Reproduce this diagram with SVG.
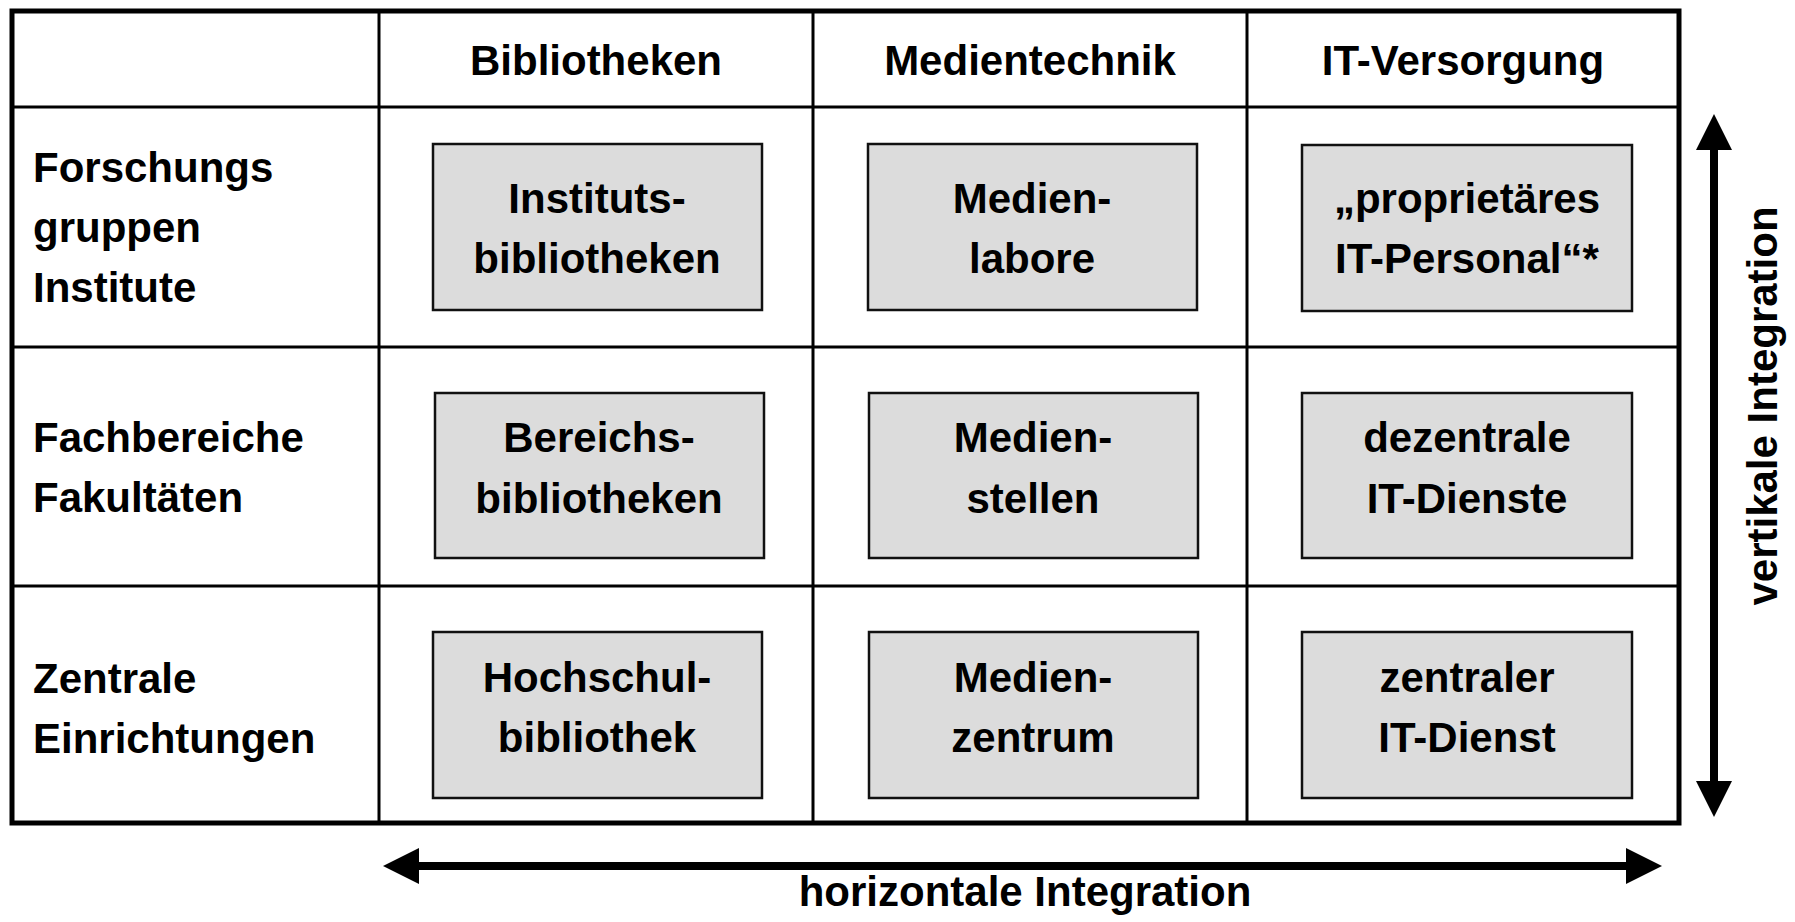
<svg xmlns="http://www.w3.org/2000/svg" width="1795" height="922" viewBox="0 0 1795 922">
  <style>
    text { font-family: "Liberation Sans", Arial, sans-serif; font-weight: bold; font-size: 42px; fill: #000; }
    .c { text-anchor: middle; }
    .grid { stroke: #000; stroke-width: 3; fill: none; }
    .frame { stroke: #000; stroke-width: 5; fill: none; }
    .box rect { fill: #dcdcdc; stroke: #111; stroke-width: 2.5; }
    .arrow { stroke: #000; stroke-width: 8; fill: none; marker-start: url(#head); marker-end: url(#head); }
  </style>
  <defs>
    <marker id="head" markerUnits="userSpaceOnUse" markerWidth="36" markerHeight="36" viewBox="0 0 36 36" refX="5" refY="18" orient="auto-start-reverse">
      <path d="M0,0 L36,18 L0,36 z" fill="#000"/>
    </marker>
  </defs>
  <rect width="1795" height="922" fill="#fff"/>

  <g id="table">
    <line class="grid" x1="12" y1="107" x2="1679" y2="107"/>
    <line class="grid" x1="12" y1="347" x2="1679" y2="347"/>
    <line class="grid" x1="12" y1="586" x2="1679" y2="586"/>
    <line class="grid" x1="379" y1="11" x2="379" y2="823"/>
    <line class="grid" x1="813" y1="11" x2="813" y2="823"/>
    <line class="grid" x1="1247" y1="11" x2="1247" y2="823"/>
    <rect class="frame" x="12" y="11" width="1667" height="812"/>
  </g>

  <g id="headers">
    <text class="c" x="596" y="75">Bibliotheken</text>
    <text class="c" x="1030" y="75">Medientechnik</text>
    <text class="c" x="1463" y="75">IT-Versorgung</text>
  </g>

  <g id="row-labels">
    <text x="33" y="182">Forschungs</text>
    <text x="33" y="242">gruppen</text>
    <text x="33" y="302">Institute</text>
    <text x="33" y="452">Fachbereiche</text>
    <text x="33" y="512">Fakultäten</text>
    <text x="33" y="693">Zentrale</text>
    <text x="33" y="753">Einrichtungen</text>
  </g>

  <g id="node-institutsbibliotheken" class="box">
    <rect x="433" y="144" width="329" height="166"/>
    <text class="c" x="597" y="213">Instituts-</text>
    <text class="c" x="597" y="273">bibliotheken</text>
  </g>
  <g id="node-medienlabore" class="box">
    <rect x="868" y="144" width="329" height="166"/>
    <text class="c" x="1032" y="213">Medien-</text>
    <text class="c" x="1032" y="273">labore</text>
  </g>
  <g id="node-it-personal" class="box">
    <rect x="1302" y="145" width="330" height="166"/>
    <text class="c" x="1467" y="213">„proprietäres</text>
    <text class="c" x="1467" y="273">IT-Personal“*</text>
  </g>

  <g id="node-bereichsbibliotheken" class="box">
    <rect x="435" y="393" width="329" height="165"/>
    <text class="c" x="599" y="452">Bereichs-</text>
    <text class="c" x="599" y="513">bibliotheken</text>
  </g>
  <g id="node-medienstellen" class="box">
    <rect x="869" y="393" width="329" height="165"/>
    <text class="c" x="1033" y="452">Medien-</text>
    <text class="c" x="1033" y="513">stellen</text>
  </g>
  <g id="node-dezentrale-it" class="box">
    <rect x="1302" y="393" width="330" height="165"/>
    <text class="c" x="1467" y="452">dezentrale</text>
    <text class="c" x="1467" y="513">IT-Dienste</text>
  </g>

  <g id="node-hochschulbibliothek" class="box">
    <rect x="433" y="632" width="329" height="166"/>
    <text class="c" x="597" y="692">Hochschul-</text>
    <text class="c" x="597" y="752">bibliothek</text>
  </g>
  <g id="node-medienzentrum" class="box">
    <rect x="869" y="632" width="329" height="166"/>
    <text class="c" x="1033" y="692">Medien-</text>
    <text class="c" x="1033" y="752">zentrum</text>
  </g>
  <g id="node-zentraler-it" class="box">
    <rect x="1302" y="632" width="330" height="166"/>
    <text class="c" x="1467" y="692">zentraler</text>
    <text class="c" x="1467" y="752">IT-Dienst</text>
  </g>

  <g id="connectors">
    <line class="arrow" x1="1714" y1="145" x2="1714" y2="786"/>
    <line class="arrow" x1="414" y1="866" x2="1631" y2="866"/>
  </g>

  <g id="axis-labels">
    <text class="c" transform="translate(1777,406) rotate(-90)">vertikale Integration</text>
    <text class="c" x="1025" y="906">horizontale Integration</text>
  </g>
</svg>
